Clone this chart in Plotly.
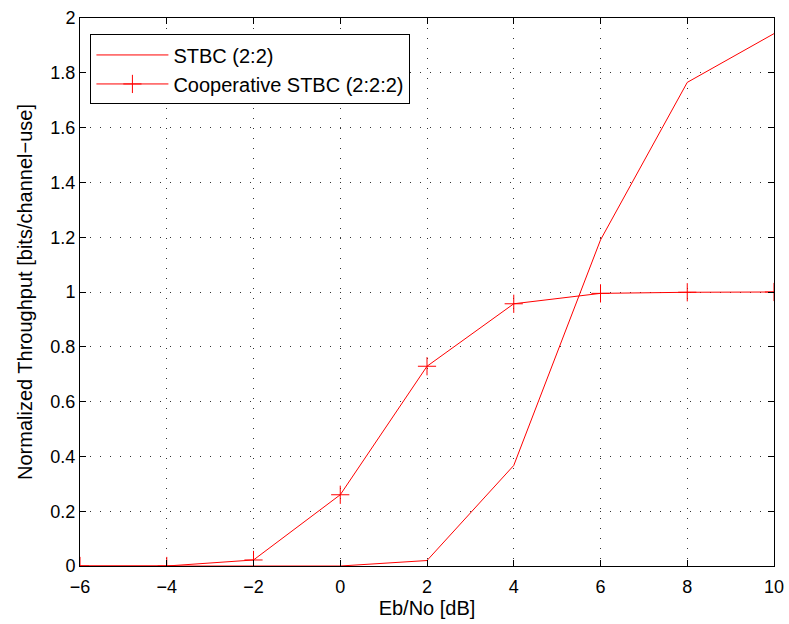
import plotly.graph_objects as go

ebno = [-6, -4, -2, 0, 2, 4, 6, 8, 10]
stbc_22 = [0, 0, 0, 0, 0.02, 0.367, 1.19, 1.765, 1.943]
coop_stbc_222 = [0, 0, 0.022, 0.26, 0.729, 0.957, 0.995, 0.999, 1.0]

x_ticks = [-6, -4, -2, 0, 2, 4, 6, 8, 10]
y_ticks = [0, 0.2, 0.4, 0.6, 0.8, 1, 1.2, 1.4, 1.6, 1.8, 2]

font_family = "Liberation Sans, Arial, Helvetica, sans-serif"

fig = go.Figure()
fig.add_trace(go.Scatter(
    x=ebno, y=stbc_22, mode="lines", name="STBC (2:2)",
    line=dict(color="red", width=1),
))
fig.add_trace(go.Scatter(
    x=ebno, y=coop_stbc_222, mode="lines+markers", name="Cooperative STBC (2:2:2)",
    line=dict(color="red", width=1),
    marker=dict(symbol="cross-thin", size=13, line=dict(color="red", width=1), color="red"),
))

axis_common = dict(
    showline=True, linecolor="black", linewidth=1, mirror="ticks",
    ticks="inside", ticklen=6, tickcolor="black",
    showgrid=True, gridcolor="#333333", griddash="1px,9px", gridwidth=1,
    zeroline=False, automargin=False,
    tickfont=dict(size=18, color="black", family=font_family),
)

fig.update_xaxes(
    range=[-6, 10], tickvals=x_ticks, ticktext=[str(v).replace("-", "\u2212") for v in x_ticks],
    ticklabelstandoff=4,
    title=dict(text="Eb/No [dB]", font=dict(size=20, color="black", family=font_family), standoff=4),
    **axis_common,
)
fig.update_yaxes(
    range=[0, 2], tickvals=y_ticks, ticktext=[f"{v:g}" for v in y_ticks],
    title=dict(text="Normalized Throughput [bits/channel\u2212use]", font=dict(size=20, color="black", family=font_family), standoff=12),
    **axis_common,
)

fig.update_layout(
    width=789, height=624,
    margin=dict(l=80, r=15, t=18, b=58),
    paper_bgcolor="white", plot_bgcolor="white",
    font=dict(family=font_family, size=18, color="black"),
    showlegend=True,
    legend=dict(
        x=0.015, y=0.97, xanchor="left", yanchor="top",
        bgcolor="white", bordercolor="black", borderwidth=1,
        font=dict(size=20, color="black", family=font_family),
        itemwidth=72, tracegroupgap=0,
    ),
)

fig.write_html("out.html")
